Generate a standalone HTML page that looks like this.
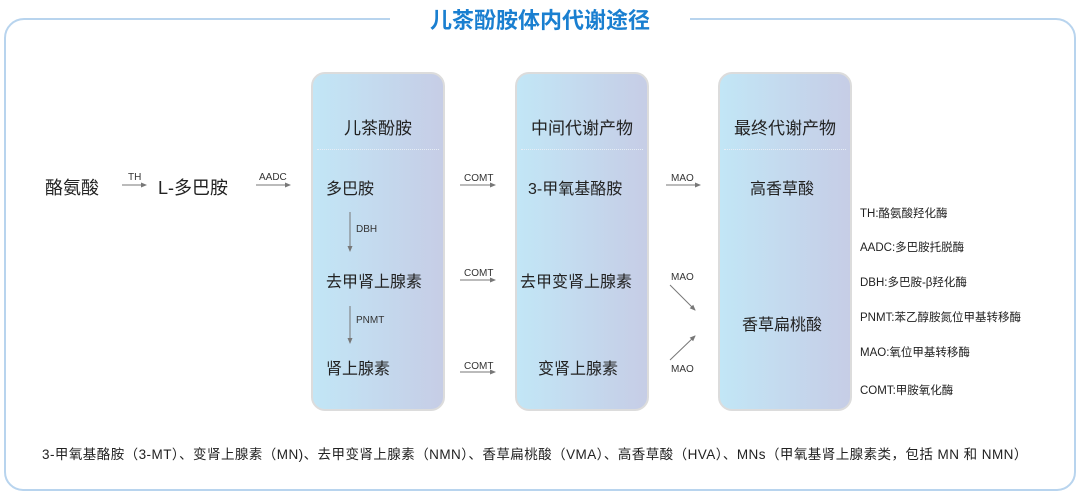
<!DOCTYPE html>
<html><head><meta charset="utf-8"><style>
body{margin:0;width:1080px;height:500px;background:#fff;position:relative;overflow:hidden;font-family:"Liberation Sans","Noto Sans CJK SC",sans-serif;color:#222}
.t{position:absolute;white-space:nowrap}
.box{position:absolute;top:72px;width:130px;height:335px;border:2px solid #dcdcdc;border-radius:14px;background:linear-gradient(90deg,#c2e6f6,#c6cde6)}
.box .h{position:absolute;top:40px;width:100%;text-align:center;font-size:17px}
.box .d{position:absolute;top:75px;left:4px;right:4px;border-top:1px dotted #e8eef6}
.m{font-size:16px}
.s{font-size:10px;color:#333}
.l{font-size:11.5px;color:#222}
svg{z-index:5}
</style></head><body>
<div class="t" style="left:390px;top:3px;width:300px;text-align:center;font-size:22px;color:#1a7fd0;font-weight:bold">儿茶酚胺体内代谢途径</div>
<div class="t m" style="left:45px;top:174px;font-size:18px">酪氨酸</div>
<div class="t s" style="left:128px;top:172px">TH</div>
<div class="t m" style="left:158px;top:174px;font-size:18px">L-多巴胺</div>
<div class="t s" style="left:259px;top:172px">AADC</div>
<div class="box" style="left:311px"><div class="h">儿茶酚胺</div><div class="d"></div></div>
<div class="box" style="left:515px"><div class="h">中间代谢产物</div><div class="d"></div></div>
<div class="box" style="left:718px"><div class="h">最终代谢产物</div><div class="d"></div></div>
<div class="t m" style="left:326px;top:175px">多巴胺</div>
<div class="t s" style="left:356px;top:224px">DBH</div>
<div class="t m" style="left:326px;top:268px">去甲肾上腺素</div>
<div class="t s" style="left:356px;top:315px">PNMT</div>
<div class="t m" style="left:326px;top:355px">肾上腺素</div>
<div class="t s" style="left:464px;top:173px">COMT</div>
<div class="t s" style="left:464px;top:268px">COMT</div>
<div class="t s" style="left:464px;top:361px">COMT</div>
<div class="t m" style="left:528px;top:175px">3-甲氧基酪胺</div>
<div class="t m" style="left:520px;top:268px">去甲变肾上腺素</div>
<div class="t m" style="left:538px;top:355px">变肾上腺素</div>
<div class="t s" style="left:671px;top:173px">MAO</div>
<div class="t s" style="left:671px;top:272px">MAO</div>
<div class="t s" style="left:671px;top:364px">MAO</div>
<div class="t m" style="left:750px;top:175px">高香草酸</div>
<div class="t m" style="left:742px;top:311px">香草扁桃酸</div>
<div class="t l" style="left:860px;top:205px">TH:酪氨酸羟化酶</div>
<div class="t l" style="left:860px;top:239px">AADC:多巴胺托脱酶</div>
<div class="t l" style="left:860px;top:274px">DBH:多巴胺-β羟化酶</div>
<div class="t l" style="left:860px;top:309px">PNMT:苯乙醇胺氮位甲基转移酶</div>
<div class="t l" style="left:860px;top:344px">MAO:氧位甲基转移酶</div>
<div class="t l" style="left:860px;top:382px">COMT:甲胺氧化酶</div>
<div class="t" style="left:42px;top:443px;font-size:13.5px;letter-spacing:0.45px">3-甲氧基酪胺（3-MT）、变肾上腺素（MN)、去甲变肾上腺素（NMN）、香草扁桃酸（VMA）、高香草酸（HVA）、MNs（甲氧基肾上腺素类，包括 MN 和 NMN）</div>
<svg width="1080" height="500" style="position:absolute;left:0;top:0">
<path d="M390 19 H24 A19 19 0 0 0 5 38 V472 A18 18 0 0 0 23 490 H1057 A18 18 0 0 0 1075 472 V38 A19 19 0 0 0 1056 19 H690" fill="none" stroke="#b8d4ee" stroke-width="2"/>
<defs><marker id="a" markerWidth="6" markerHeight="6" refX="5" refY="3" orient="auto"><path d="M0,0.5 L6,3 L0,5.5z" fill="#777"/></marker></defs>
<g stroke="#777" stroke-width="1" marker-end="url(#a)">
<line x1="122" y1="185" x2="146" y2="185"/>
<line x1="256" y1="185" x2="290" y2="185"/>
<line x1="460" y1="185" x2="495" y2="185"/>
<line x1="460" y1="280" x2="495" y2="280"/>
<line x1="460" y1="372" x2="495" y2="372"/>
<line x1="666" y1="185" x2="700" y2="185"/>
<line x1="670" y1="285" x2="695" y2="310"/>
<line x1="670" y1="360" x2="695" y2="336"/>
<line x1="350" y1="212" x2="350" y2="251"/>
<line x1="350" y1="306" x2="350" y2="343"/>
</g>
</svg>
</body></html>
